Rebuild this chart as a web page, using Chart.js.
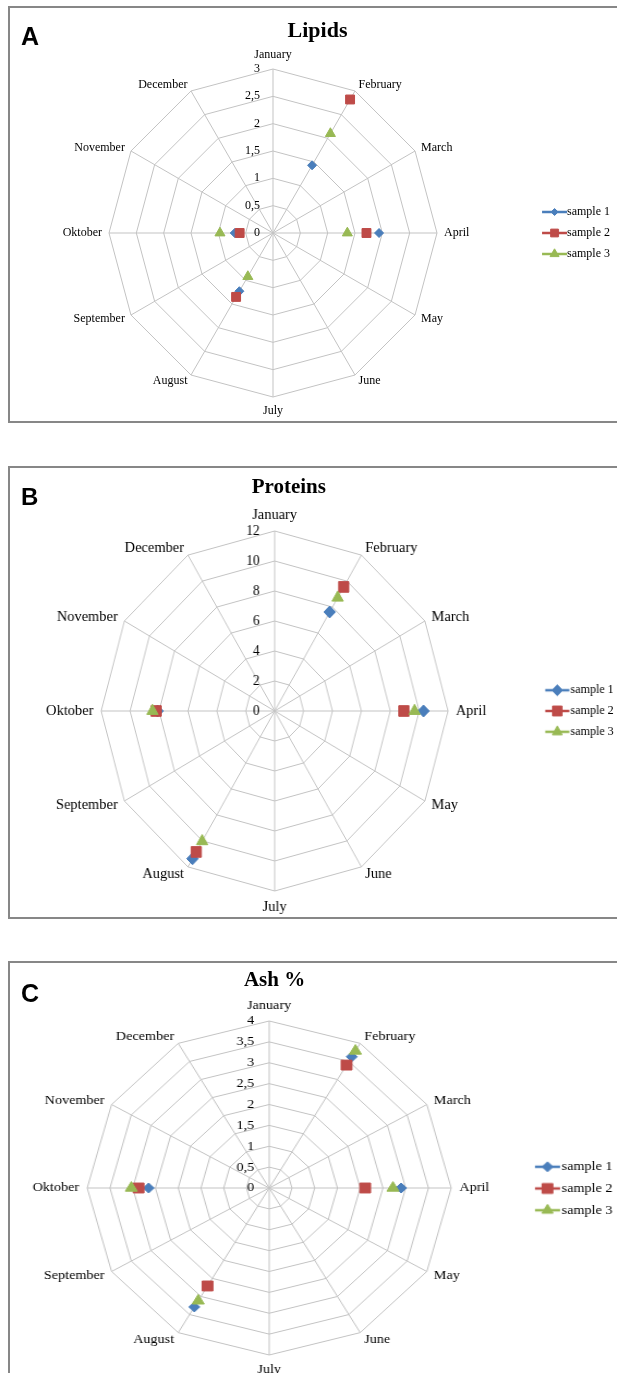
<!DOCTYPE html>
<html>
<head>
<meta charset="utf-8">
<script src="https://cdn.jsdelivr.net/npm/chart.js@4.4.1/dist/chart.umd.min.js"></script>
<style>
  html, body { margin: 0; padding: 0; background: #fff; overflow: hidden; }
  #page { position: relative; width: 617px; height: 1373px; overflow: hidden; }
  .frame { position: absolute; left: 8px; width: 700px; border: 2px solid #878787; box-sizing: border-box; }
  .letter { position: absolute; left: 21px; font-family: "Liberation Sans", Arial, sans-serif; font-weight: bold; line-height: 1; color: #000; }
  .title { position: absolute; font-family: "Liberation Serif", "Times New Roman", serif; font-weight: bold; line-height: 1; white-space: nowrap; transform: translateX(-50%); color: #000; }
  canvas { position: absolute; left: 0; }
</style>
</head>
<body>
<div id="page">
  <div class="frame" style="top:6px;height:417px"></div>
  <div class="frame" style="top:466px;height:453px"></div>
  <div class="frame" style="top:961px;height:500px"></div>

  <canvas id="lipids" width="630" height="425" style="top:0px;width:630px;height:425px"></canvas>
  <canvas id="proteins" width="660" height="458" style="top:460px;width:636.2px;height:458px"></canvas>
  <canvas id="ash" width="590" height="418" style="top:955px;width:643.1px;height:418px"></canvas>

  <div class="letter" style="top:24px;font-size:25px">A</div>
  <div class="title" style="left:317.5px;top:19.3px;font-size:22px">Lipids</div>
  <div class="letter" style="top:484.7px;font-size:24px">B</div>
  <div class="title" style="left:288.8px;top:475.7px;font-size:21px">Proteins</div>
  <div class="letter" style="top:980.5px;font-size:25px">C</div>
  <div class="title" style="left:274.6px;top:969.4px;font-size:21px">Ash %</div>
</div>

<script>
// ===== DATA =====
const months = ['January', 'February', 'March', 'April', 'May', 'June',
                'July', 'August', 'September', 'Oktober', 'November', 'December'];
const seriesNames = ['sample 1', 'sample 2', 'sample 3'];

// Lipids
const lipidsSample1 = [null, 1.43, null, 1.94, null, null, null, 1.23, null, 0.70, null, null];
const lipidsSample2 = [null, 2.82, null, 1.71, null, null, null, 1.35, null, 0.61, null, null];
const lipidsSample3 = [null, 2.10, null, 1.36, null, null, null, 0.92, null, 0.97, null, null];
const lipidsTicks = [0, 0.5, 1, 1.5, 2, 2.5, 3];

// Proteins
const proteinsSample1 = [null, 7.62, null, 10.3, null, null, null, 11.37, null, 8.1, null, null];
const proteinsSample2 = [null, 9.55, null, 8.94, null, null, null, 10.85, null, 8.2, null, null];
const proteinsSample3 = [null, 8.72, null, 9.68, null, null, null, 10.03, null, 8.45, null, null];
const proteinsTicks = [0, 2, 4, 6, 8, 10, 12];

// Ash %
const ashSample1 = [null, 3.63, null, 2.90, null, null, null, 3.29, null, 2.65, null, null];
const ashSample2 = [null, 3.40, null, 2.11, null, null, null, 2.71, null, 2.87, null, null];
const ashSample3 = [null, 3.79, null, 2.72, null, null, null, 3.12, null, 3.03, null, null];
const ashTicks = [0, 0.5, 1, 1.5, 2, 2.5, 3, 3.5, 4];

// ===== STYLE =====
const palette = ['#4A7EBB', '#BE4B48', '#98B954'];
const markerStyles = ['rectRot', 'rect', 'triangle'];
const SERIF = '"Liberation Serif", "Times New Roman", serif';

Chart.defaults.font.family = SERIF;
Chart.defaults.color = '#000';

// tick labels sit left of the January spoke, like the Excel original
const tickLabels = {
  id: 'tickLabels',
  afterDatasetsDraw(chart, args, opts) {
    const scale = chart.scales.r;
    const ctx = chart.ctx;
    ctx.save();
    ctx.font = opts.size + 'px ' + SERIF;
    ctx.fillStyle = '#000';
    ctx.textAlign = 'right';
    ctx.textBaseline = 'middle';
    scale.ticks.forEach(function(t) {
      const d = scale.getDistanceFromCenterForValue(t.value);
      ctx.fillText(String(t.value).replace('.', ','), scale.xCenter - opts.gap, scale.yCenter - d);
    });
    ctx.restore();
  }
};

// legend symbol: short line with the marker on it
function legendImage(color, style, radius, lineFrom, lineTo, boxWidth) {
  const c = document.createElement('canvas');
  c.width = 70;
  c.height = 18;
  const g = c.getContext('2d');
  const x0 = c.width / 2 - boxWidth / 2;
  const y = c.height / 2;
  g.strokeStyle = color;
  g.fillStyle = color;
  g.lineWidth = 2.5;
  g.beginPath();
  g.moveTo(x0 + lineFrom, y);
  g.lineTo(x0 + lineTo, y);
  g.stroke();
  g.lineWidth = 1;
  Chart.helpers.drawPoint(g, { pointStyle: style, radius: radius, borderWidth: 1, rotation: 0 },
    x0 + (lineFrom + lineTo) / 2, y);
  return c;
}

function radar(id, series, ticks, p) {
  const marks = series.map((s, i) =>
    legendImage(palette[i], markerStyles[i], p.legendRadius[i], p.legendLine[0], p.legendLine[1], 20));

  return new Chart(document.getElementById(id), {
    type: 'radar',
    data: {
      labels: months,
      datasets: series.map((values, i) => ({
        label: seriesNames[i],
        data: values,
        order: 2 - i,
        showLine: false,
        fill: false,
        borderColor: palette[i],
        backgroundColor: palette[i],
        pointStyle: markerStyles[i],
        pointRadius: p.pointRadius[i],
        pointHoverRadius: p.pointRadius[i],
        pointBorderWidth: 1,
        pointBackgroundColor: palette[i],
        pointBorderColor: palette[i]
      }))
    },
    options: {
      responsive: false,
      animation: false,
      devicePixelRatio: 1,
      layout: { padding: p.padding },
      scales: {
        r: {
          min: ticks[0],
          max: ticks[ticks.length - 1],
          ticks: { display: false, stepSize: ticks[1] - ticks[0] },
          grid: { color: '#c3c3c3', lineWidth: 1 },
          angleLines: { color: '#c3c3c3', lineWidth: 1 },
          pointLabels: {
            color: '#000',
            font: { family: SERIF, size: p.labelSize, lineHeight: 0 },
            padding: ctx => (ctx.index % 6 === 0 ? p.padVert : p.padDiag)
          }
        }
      },
      plugins: {
        tooltip: { enabled: false },
        tickLabels: { size: p.tickSize, gap: p.tickGap },
        legend: {
          position: 'right',
          align: 'center',
          labels: {
            usePointStyle: true,
            pointStyleWidth: 20,
            padding: p.legendPad,
            color: '#000',
            font: { family: SERIF, size: p.legendSize },
            generateLabels: chart => chart.data.datasets.map((ds, i) => ({
              text: ds.label,
              pointStyle: marks[i],
              datasetIndex: i,
              hidden: false,
              lineWidth: 0,
              fillStyle: 'transparent',
              strokeStyle: 'transparent'
            }))
          }
        }
      }
    },
    plugins: [tickLabels]
  });
}

// ===== CHARTS =====
radar('lipids', [lipidsSample1, lipidsSample2, lipidsSample3], lipidsTicks, {
  padding: { left: 14, right: 10, top: 55, bottom: 14 },
  labelSize: 12, padVert: 14, padDiag: 7,
  tickSize: 12, tickGap: 13,
  pointRadius: [4.5, 6.3, 5.8],
  legendRadius: [3.5, 5.5, 5.2], legendLine: [1, 26],
  legendSize: 12, legendPad: 9
});

radar('proteins', [proteinsSample1, proteinsSample2, proteinsSample3], proteinsTicks, {
  padding: { left: 13.15, right: 13.2, top: 55, bottom: 11 },
  labelSize: 15, padVert: 16, padDiag: 8,
  tickSize: 14, tickGap: 15.6,
  pointRadius: [6, 7.5, 6.8],
  legendRadius: [5.5, 7, 6], legendLine: [0, 25],
  legendSize: 12.5, legendPad: 8.3
});

radar('ash', [ashSample1, ashSample2, ashSample3], ashTicks, {
  padding: { left: 14.7, right: 18.1, top: 51, bottom: 2 },
  labelSize: 13, padVert: 15, padDiag: 7.5,
  tickSize: 13, tickGap: 13.8,
  pointRadius: [5, 7, 6.4],
  legendRadius: [5, 7, 6], legendLine: [2, 25],
  legendSize: 13, legendPad: 8.7
});
</script>
</body>
</html>
